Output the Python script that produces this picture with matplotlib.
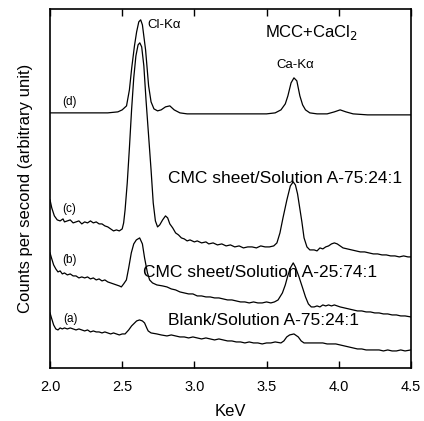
import numpy as np
import matplotlib
matplotlib.use('Agg')
import matplotlib.pyplot as plt

plt.rcParams['font.family'] = ['Liberation Sans', 'DejaVu Sans']

# (d) MCC+CaCl2
kev_d = [2.00, 2.20, 2.40, 2.47, 2.50, 2.53, 2.55, 2.566, 2.585, 2.60, 2.615, 2.628, 2.64, 2.662,
         2.683, 2.70, 2.72, 2.745, 2.77, 2.80, 2.83, 2.86, 2.90, 2.95, 3.10, 3.30, 3.50, 3.56,
         3.60, 3.63, 3.648, 3.67, 3.69, 3.71, 3.731, 3.75, 3.77, 3.80, 3.85, 3.92, 3.97, 4.01,
         4.05, 4.10, 4.20, 4.35, 4.50]
cnt_d = [255, 255, 255, 256, 258, 262, 278, 300, 322, 336, 346, 348, 343, 318,
         282, 266, 259, 257, 258, 261, 262, 258, 255, 254, 254, 254, 254, 255,
         258, 264, 272, 285, 290, 287, 272, 263, 258, 255, 254, 254, 256, 258,
         256, 254, 253, 253, 253]

# (c) CMC sheet/Solution A-75:24:1
kev_c = [2.000, 2.012, 2.03, 2.05, 2.07, 2.09, 2.10, 2.12, 2.14, 2.16, 2.18, 2.20, 2.22, 2.24,
         2.26, 2.28, 2.30, 2.32, 2.34, 2.36, 2.38, 2.40, 2.42, 2.44, 2.46, 2.48, 2.50, 2.51,
         2.52, 2.535, 2.55, 2.565, 2.58, 2.595, 2.61, 2.622, 2.635, 2.65, 2.665, 2.685, 2.70,
         2.715, 2.73, 2.745, 2.76, 2.78, 2.80, 2.815, 2.83, 2.85, 2.87, 2.89, 2.91, 2.93, 2.95,
         2.97, 3.00, 3.02, 3.05, 3.08, 3.10, 3.13, 3.16, 3.19, 3.22, 3.25, 3.28, 3.31, 3.34,
         3.37, 3.40, 3.43, 3.46, 3.49, 3.52, 3.55, 3.572, 3.593, 3.614, 3.641, 3.665, 3.685,
         3.70, 3.715, 3.73, 3.745, 3.76, 3.78, 3.80, 3.83, 3.85, 3.87, 3.89, 3.91, 3.93, 3.95,
         3.97, 3.99, 4.01, 4.03, 4.06, 4.09, 4.12, 4.15, 4.18, 4.21, 4.24, 4.27, 4.30, 4.33,
         4.36, 4.39, 4.42, 4.45, 4.48, 4.50]
cnt_c = [168, 160, 152, 148, 147, 149, 146, 147, 148, 145, 146, 147, 144, 146,
         145, 147, 145, 146, 144, 144, 142, 141, 139, 137, 138, 137, 139, 145,
         158, 185, 220, 258, 290, 312, 323, 325, 321, 302, 268, 228, 198,
         165, 147, 141, 143, 148, 152, 150, 144, 140, 135, 133, 130, 129, 127,
         128, 126, 127, 125, 126, 124, 125, 123, 124, 122, 123, 121, 122, 120,
         121, 121, 120, 122, 121, 121, 122, 125, 135, 150, 168, 182, 186,
         183, 174, 160, 146, 130, 121, 118, 118, 117, 120, 119, 121, 122, 124,
         125, 124, 122, 120, 119, 118, 117, 116, 116, 115, 114, 114, 113, 113,
         112, 112, 111, 112, 111, 111]

# (b) CMC sheet/Solution A-25:74:1
kev_b = [2.000, 2.01, 2.025, 2.04, 2.055, 2.07, 2.085, 2.10, 2.12, 2.14, 2.16, 2.18, 2.20,
         2.22, 2.24, 2.26, 2.28, 2.30, 2.32, 2.34, 2.36, 2.38, 2.40, 2.42, 2.44, 2.46, 2.48,
         2.494, 2.51, 2.529, 2.545, 2.563, 2.58, 2.598, 2.621, 2.64, 2.655, 2.675, 2.69, 2.71,
         2.74, 2.78, 2.81, 2.84, 2.87, 2.90, 2.93, 2.96, 2.99, 3.02, 3.05, 3.08, 3.11, 3.14,
         3.17, 3.20, 3.23, 3.26, 3.29, 3.32, 3.35, 3.38, 3.41, 3.44, 3.47, 3.50, 3.53, 3.555,
         3.58, 3.61, 3.63, 3.645, 3.665, 3.685, 3.70, 3.725, 3.75, 3.77, 3.79, 3.81, 3.83,
         3.85, 3.87, 3.89, 3.91, 3.93, 3.95, 3.97, 3.99, 4.01, 4.04, 4.07, 4.10, 4.13, 4.16,
         4.19, 4.22, 4.25, 4.28, 4.31, 4.34, 4.37, 4.40, 4.43, 4.46, 4.50]
cnt_b = [115, 110, 103, 99, 96, 97, 94, 95, 93, 94, 92, 92, 90,
         91, 90, 91, 89, 90, 88, 89, 87, 88, 86, 85, 84, 83, 82,
         81, 84, 88, 100, 115, 124, 128, 130, 124, 110, 95, 88, 85,
         83, 82, 81, 79, 78, 76, 75, 74, 74, 72, 72, 71, 71, 70,
         70, 69, 68, 68, 67, 66, 66, 65, 66, 65, 65, 66, 65, 66,
         68, 75, 83, 91, 100, 105, 101, 91, 80, 71, 64, 61, 61,
         62, 61, 63, 62, 63, 62, 63, 62, 61, 60, 59, 58, 57, 57,
         56, 56, 55, 55, 54, 54, 53, 53, 52, 52, 51]

# (a) Blank/Solution A-75:24:1
kev_a = [2.000, 2.01, 2.025, 2.04, 2.055, 2.07, 2.085, 2.10, 2.12, 2.14, 2.16, 2.18, 2.20,
         2.22, 2.24, 2.26, 2.28, 2.30, 2.32, 2.34, 2.36, 2.38, 2.40, 2.42, 2.44, 2.46, 2.48,
         2.50, 2.52, 2.545, 2.565, 2.586, 2.60, 2.62, 2.64, 2.655, 2.67, 2.68, 2.70, 2.74,
         2.77, 2.81, 2.84, 2.87, 2.90, 2.93, 2.96, 2.99, 3.02, 3.05, 3.08, 3.11, 3.14, 3.17,
         3.20, 3.23, 3.26, 3.29, 3.32, 3.35, 3.38, 3.41, 3.44, 3.47, 3.50, 3.53, 3.56, 3.60,
         3.62, 3.64, 3.66, 3.69, 3.72, 3.74, 3.76, 3.80, 3.83, 3.86, 3.89, 3.92, 3.95, 3.98,
         4.01, 4.04, 4.07, 4.10, 4.13, 4.16, 4.19, 4.22, 4.25, 4.28, 4.31, 4.34, 4.37, 4.40,
         4.43, 4.46, 4.50]
cnt_a = [55, 50, 43, 39, 38, 40, 39, 40, 39, 40, 39, 38, 39,
         38, 37, 38, 36, 37, 36, 36, 35, 36, 35, 34, 35, 34, 33,
         34, 34, 38, 42, 45, 47, 48, 47, 45, 40, 37, 35, 34,
         33, 32, 33, 32, 31, 31, 30, 31, 30, 29, 30, 29, 28, 29,
         28, 27, 27, 26, 26, 25, 26, 25, 25, 24, 25, 25, 26, 25,
         27, 31, 33, 34, 31, 27, 25, 25, 25, 25, 25, 24, 24, 24,
         23, 22, 21, 20, 19, 19, 18, 18, 18, 18, 17, 18, 17, 17,
         18, 17, 18]

fig = plt.figure(figsize=(4.24, 4.21), dpi=100)
ax = fig.add_axes([0.118, 0.126, 0.851, 0.853])

for k, c in [(kev_d, cnt_d), (kev_c, cnt_c), (kev_b, cnt_b), (kev_a, cnt_a)]:
    ax.plot(k, c, color='black', lw=0.9)

ax.set_xlim(2.0, 4.5)
ax.set_ylim(0, 359)
ax.set_xticks([2.0, 2.5, 3.0, 3.5, 4.0, 4.5])
ax.set_xticklabels(['2.0', '2.5', '3.0', '3.5', '4.0', '4.5'])
ax.set_yticks([])
ax.tick_params(axis='x', direction='in', top=True, length=5, width=1, labelsize=10.5, pad=9)
for s in ax.spines.values():
    s.set_linewidth(1.2)

ax.set_xlabel('KeV', fontsize=12, labelpad=7)
ax.set_ylabel('Counts per second (arbitrary unit)', fontsize=12, labelpad=12)

ax.text(2.676, 340, 'Cl-K\u03b1', fontsize=9.5, ha='left', va='baseline')
ax.text(3.697, 300, 'Ca-K\u03b1', fontsize=9.5, ha='center', va='baseline')
ax.text(3.81, 331, 'MCC+CaCl$_2$', fontsize=12, ha='center', va='baseline')
ax.text(2.083, 263, '(d)', fontsize=8.5, ha='left', va='baseline')
ax.text(2.083, 156, '(c)', fontsize=8.5, ha='left', va='baseline')
ax.text(2.083, 105, '(b)', fontsize=8.5, ha='left', va='baseline')
ax.text(2.09, 46, '(a)', fontsize=8.5, ha='left', va='baseline')
ax.text(4.441, 185, 'CMC sheet/Solution A-75:24:1', fontsize=12.5, ha='right', va='baseline')
ax.text(4.269, 91, 'CMC sheet/Solution A-25:74:1', fontsize=12.5, ha='right', va='baseline')
ax.text(4.138, 43, 'Blank/Solution A-75:24:1', fontsize=12.5, ha='right', va='baseline')

fig.savefig('out.png', dpi=100)
